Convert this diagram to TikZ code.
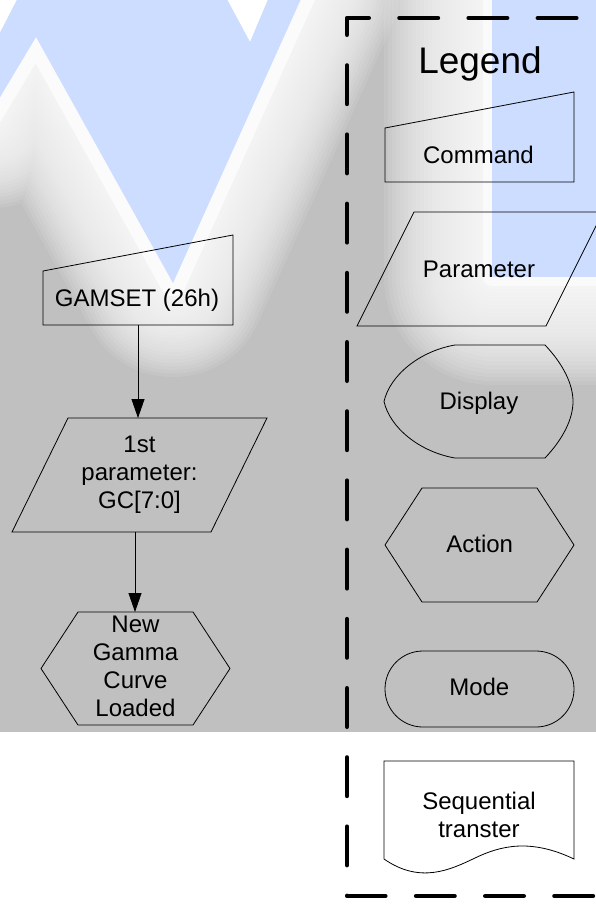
\documentclass[tikz,border=0pt]{standalone}
\usepackage{fontspec}
\setmainfont{Liberation Sans}
\usetikzlibrary{arrows.meta}
\definecolor{bggray}{HTML}{C0C0C0}
\definecolor{wmblue}{HTML}{CCDDFF}
\begin{document}
\begin{tikzpicture}[x=1pt,y=-1pt,
  shapeline/.style={draw=black, line width=0.8pt, line join=miter},
  lbl/.style={font=\fontsize{24}{28}\selectfont, align=center, text=black, inner sep=0pt},
  lblb/.style={font=\fontsize{24}{28}\selectfont, text=black, inner sep=0pt, anchor=base},
  flow/.style={draw=black, line width=0.8pt, -{Triangle[width=13pt,length=19pt]}},
  legendframe/.style={draw=black, line width=4.5pt, line cap=round, line join=round,
     dash pattern=on 38.5pt off 30.7pt, dash phase=25.55pt},
  glow/.style={draw=white, line join=round}
]
\useasboundingbox (0,0) rectangle (596,907);
\fill[white] (0,0) rectangle (596,907);
\fill[bggray] (0,0) rectangle (596,732);

% watermark
\begin{scope}
\clip (0,0) rectangle (596,732);
\foreach \i in {1,...,26}{
  \pgfmathsetmacro{\w}{6+7*\i}
  \path[glow, line width=\w pt, opacity=0.09]
    (22,-10) -- (222,-10) -- (250,42) -- (272,-10) -- (305,-10) -- (173,283)
    -- (36,37) -- (-10,114) -- (-10,52) -- cycle;
  \pgfmathsetmacro{\v}{8+8*\i}
  \path[glow, line width=\v pt, opacity=0.085]
    (492,-20) rectangle (660,277);
}
\path[glow, line width=26pt, opacity=0.7]
    (22,-10) -- (222,-10) -- (250,42) -- (272,-10) -- (305,-10) -- (173,283)
    -- (36,37) -- (-10,114) -- (-10,52) -- cycle;
\path[glow, line width=18pt, opacity=0.6] (492,-20) rectangle (660,277);
\fill[white] (222,-10) -- (250,42) -- (272,-10) -- cycle;
\fill[white] (-10,-10) -- (22,-10) -- (-10,52) -- cycle;
\fill[wmblue] (22,-10) -- (222,-10) -- (250,42) -- (272,-10) -- (305,-10) -- (173,283)
    -- (36,37) -- (-10,114) -- (-10,52) -- cycle;
\fill[wmblue] (492,-20) rectangle (660,277);
\end{scope}

% main flow
\draw[shapeline] (43,271) -- (233,235) -- (233,325) -- (43,325) -- cycle;
\node[lblb] (gamset) at (137,306) {GAMSET (26h)};
\draw[shapeline] (68,418) -- (267,418) -- (211,532) -- (12,532) -- cycle;
\node[lbl] (param) at (139.5,475) {1st\\parameter:\\GC[7:0]};
\draw[shapeline] (78,612) -- (193,612) -- (230,668.5) -- (193,725) -- (78,725) -- (41,668.5) -- cycle;
\node[lbl] (gamma) at (135.5,666) {New\\Gamma\\Curve\\Loaded};

\coordinate (gamsetS) at (138,325);
\coordinate (paramN) at (138,418);
\coordinate (paramS) at (135,532);
\coordinate (gammaN) at (135,612);
\draw[flow] (gamsetS) -- (paramN);
\draw[flow] (paramS) -- (gammaN);

% legend frame
\coordinate (frTR) at (620,18);
\coordinate (frTL) at (347,18);
\coordinate (frBL) at (347,896);
\coordinate (frBR) at (620,896);
\draw[legendframe] (frTR) -- (frTL) -- (frBL) -- (frBR);

\node[font=\fontsize{37}{44}\selectfont, inner sep=0pt, anchor=base] (legend) at (480,74) {Legend};

% Command
\draw[shapeline] (385,128) -- (574,92) -- (574,182) -- (385,182) -- cycle;
\node[lblb] (cmd) at (478.5,163) {Command};
% Parameter
\draw[shapeline] (414,212) -- (603,212) -- (546,326) -- (357,326) -- cycle;
\node[lblb] (par) at (479,277) {Parameter};
% Display
\draw[shapeline] (455,345) -- (545,345)
   .. controls (563,364) and (573,384) .. (573,401.5)
   .. controls (573,419) and (563,439) .. (545,458) -- (455,458)
   .. controls (420,452) and (390,428) .. (384,401.5)
   .. controls (390,375) and (420,351) .. (455,345) -- cycle;
\node[lblb] (disp) at (479,409) {Display};
% Action
\draw[shapeline] (422,488) -- (537,488) -- (574,545) -- (537,602) -- (422,602) -- (385,545) -- cycle;
\node[lblb] (act) at (479.7,552) {Action};
% Mode
\draw[shapeline, rounded corners=37.9pt] (385,651) rectangle (574,727);
\node[lblb] (mode) at (479.3,695) {Mode};
% Sequential transfer
\draw[shapeline] (384,859) -- (384,761) -- (574,761) -- (574,859)
   .. controls (530,838) and (500,846) .. (475,858)
   .. controls (450,870) and (420,884) .. (384,859) -- cycle;
\node[lbl] (seq) at (479,815) {Sequential\\transter};
\end{tikzpicture}
\end{document}
